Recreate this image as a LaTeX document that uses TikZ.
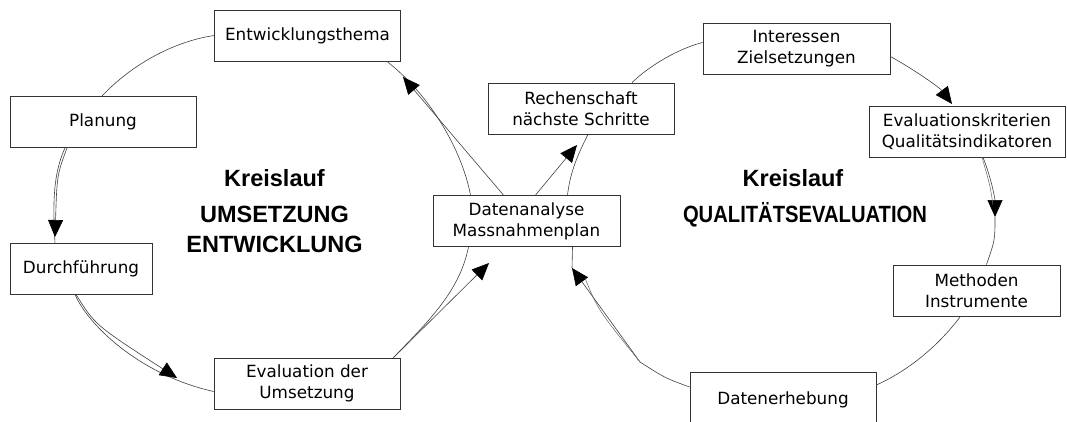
\documentclass[tikz,border=0pt]{standalone}
\usepackage{fontspec}
\setmainfont{DejaVu Sans}
\newfontfamily\titlefont{Liberation Sans}
\usetikzlibrary{arrows.meta}

\begin{document}
\begin{tikzpicture}[x=1bp,y=-1bp]
            \tikzset{
                box/.style={draw=black!80, line width=0.8bp, minimum width=186bp, minimum height=51bp,
                    inner sep=0pt, align=center, font=\fontsize{16.8bp}{21bp}\selectfont},
                titel/.style={font=\titlefont\bfseries\fontsize{23.5bp}{28bp}\selectfont, anchor=base},
                link/.style={draw=black!75, line width=0.6bp},
                ghost/.style={draw=black!60, line width=0.5bp},
                arr/.style={link, -{Triangle[length=17bp,width=15bp,fill=black,color=black]}},}
            \useasboundingbox (0,0) rectangle (1067,421);
            % Kreislauf Umsetzung / Entwicklung
            \node[box] (thema) at (307.5,35.5) {Entwicklungsthema};
            \node[box] (plan) at (103,122) {Planung};
            \node[box, minimum width=142bp] (durch) at (81,268.5) {Durchführung};
            \node[box] (evalu) at (307,383.5) {Evaluation der\\Umsetzung};
            \node[box, minimum width=187bp] (daten) at (526.5,221) {Datenanalyse\\Massnahmenplan};
            % Kreislauf Qualitaetsevaluation
            \node[box] (rechen) at (581,108.5) {Rechenschaft\\nächste Schritte};
            \node[box, minimum width=187bp] (inter) at (796.5,48.5) {Interessen\\Zielsetzungen};
            \node[box, minimum width=196bp] (krit) at (967,131.5) {Evaluationskriterien\\Qualitätsindikatoren};
            \node[box, minimum width=167bp] (meth) at (976.5,290.5) {Methoden\\Instrumente};
            \node[box, minimum height=56bp] (erheb) at (783,400) {Datenerhebung};
            % titles
            \node[titel] (kl1) at (274.5,186) {Kreislauf};
            \node[titel] (um) at (274.5,222) {UMSETZUNG};
            \node[titel] (ent) at (274.5,252) {ENTWICKLUNG};
            \node[titel] (kl2) at (793,186) {Kreislauf};
            \node[titel] (qual) at (805,222) {\scalebox{0.86}[1]{QUALITÄTSEVALUATION}};
            % arrow tips and knees
            \coordinate (t2) at (55,237);
            \coordinate (t3) at (177,378);
            \coordinate (t4) at (489,263);
            \coordinate (t5) at (403,77);
            \coordinate (t6) at (577,145);
            \coordinate (t8) at (952,104);
            \coordinate (t9) at (995,217);
            \coordinate (t11) at (572,268);
            \coordinate (k11) at (640,362);
            % left circle
            \draw[link] (thema.west) .. controls (170,42) and (128,68) .. ([xshift=-1bp]plan.north);
            \draw[link] ([xshift=-38bp]plan.south) .. controls (55,170) and (52,195) .. ([xshift=-26bp]durch.north);
            \draw[arr] ([xshift=-36bp]plan.south) .. controls (57,175) .. (t2);
            \draw[link] ([xshift=-6bp]durch.south) .. controls (88,325) and (140,375) .. ([yshift=-8bp]evalu.west);
            \draw[arr] ([xshift=-5bp]durch.south) .. controls (95,325) .. (t3);
            \draw[link] ([xshift=-7bp]evalu.north east) .. controls (430,320) and (460,290) .. ([xshift=-58bp]daten.south);
            \draw[arr] ([xshift=-7bp]evalu.north east) -- (t4);
            \draw[link] ([xshift=-56bp]daten.north) .. controls (462,150) and (430,95) .. ([xshift=-14bp]thema.south east);
            \draw[arr] ([xshift=-23bp]daten.north) -- (t5);
            % right circle
            \draw[arr] ([xshift=9bp]daten.north) -- (t6);
            \draw[link] ([xshift=7bp]rechen.south) .. controls (575,160) and (570,175) .. ([xshift=41bp]daten.north);
            \draw[link] ([xshift=51bp]rechen.north) .. controls (650,65) and (680,48) .. ([yshift=6bp]inter.west);
            \draw[arr] ([yshift=-8bp]inter.east) .. controls (915,70) and (940,88) .. (t8);
            \draw[arr] ([xshift=16bp]krit.south) .. controls (992,180) and (995,200) .. (t9);
            \draw[ghost] ([xshift=15bp]krit.south) .. controls (990,185) .. (993,205);
            \draw[link] (t9) .. controls (995,240) .. ([xshift=10bp]meth.north);
            \draw[link] ([xshift=-16bp]meth.south) .. controls (935,350) and (905,372) .. ([yshift=15bp]erheb.east);
            \draw[link] ([yshift=13bp]erheb.west) .. controls (665,378) .. (k11);
            \draw[arr] (k11) -- (t11);
            \draw[ghost] (k11) .. controls (598,310) .. (585,278);
            \draw[link] (t11) -- ([xshift=46bp]daten.south);
\end{tikzpicture}
\end{document}
